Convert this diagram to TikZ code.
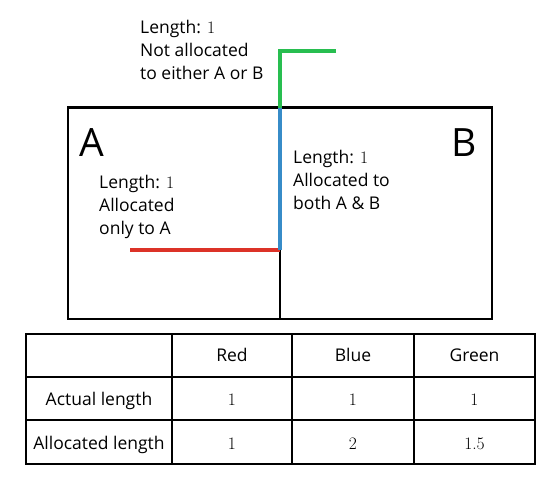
\documentclass[tikz,border=0pt]{standalone}
\usepackage{fontspec}
\newfontfamily\gill{Open Sans}
\definecolor{lgreen}{RGB}{40,190,80}
\definecolor{lblue}{RGB}{55,140,200}
\definecolor{lred}{RGB}{220,50,40}
\tikzset{
  txt/.style={font=\gill\fontsize{17.5}{22.7}\selectfont, inner sep=0pt, align=left, anchor=base west},
  big/.style={font=\gill\fontsize{39}{40}\selectfont, inner sep=0pt, anchor=base west},
  cell/.style={font=\gill\fontsize{17.5}{20}\selectfont, inner sep=0pt, anchor=base},
  seg/.style={line width=4pt},
  frame/.style={line width=2.5pt},
}
\newcommand{\num}[1]{{\rmfamily\fontsize{17.5}{20}\selectfont #1}}
\begin{document}
\begin{tikzpicture}[x=1pt,y=-1pt]
\useasboundingbox (0,0) rectangle (557,479);
% coordinates
\coordinate (gE) at (336,50.5);
\coordinate (gC) at (280,50.5);
\coordinate (top) at (280,107.5);
\coordinate (mid) at (280,250);
\coordinate (rW) at (130,250);
\coordinate (bot) at (280,319);
% main box
\draw[frame] (68,107.5) rectangle (492,319);
\draw[line width=2pt] (mid) -- (bot);
\draw[seg, lred] (rW) -- (mid);
\draw[seg, lblue] (top) -- (mid);
\draw[seg, lgreen, line join=miter] (gE) -- (gC) -- (top);
% labels (anchor = baseline of last line)
\node[big] (A) at (79,156) {A};
\node[big, anchor=base east] (B) at (477,156) {B};
\node[txt] (t1) at (140,79.3) {Length: \num{1}\\Not allocated\\to either A or B};
\node[txt] (t2) at (99,234) {Length: \num{1}\\Allocated\\only to A};
\node[txt] (t3) at (293,209) {Length: \num{1}\\Allocated to\\both A \& B};
% table
\draw[frame] (26,334) rectangle (535,464);
\draw[frame] (26,377) -- (535,377);
\draw[frame] (26,420) -- (535,420);
\draw[frame] (172,334) -- (172,464);
\draw[frame] (292,334) -- (292,464);
\draw[frame] (414,334) -- (414,464);
\node[cell] (hr) at (232,361.5) {Red};
\node[cell] (hb) at (353,361.5) {Blue};
\node[cell] (hg) at (474.5,361.5) {Green};
\node[cell] (ra) at (99,405.5) {Actual length};
\node[cell] (rl) at (99,449) {Allocated length};
\node[cell] (a1) at (232,405.5) {\num{1}};
\node[cell] (a2) at (353,405.5) {\num{1}};
\node[cell] (a3) at (474.5,405.5) {\num{1}};
\node[cell] (l1) at (232,449) {\num{1}};
\node[cell] (l2) at (353,449) {\num{2}};
\node[cell] (l3) at (474.5,449) {\num{1.5}};
\end{tikzpicture}
\end{document}
